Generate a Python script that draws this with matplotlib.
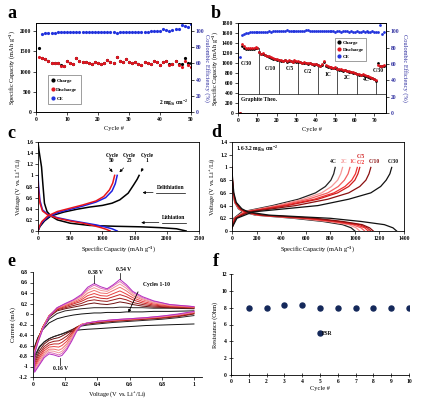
import matplotlib
matplotlib.use("Agg")
import matplotlib.pyplot as plt
from matplotlib.lines import Line2D

plt.rcParams['font.family'] = ['Liberation Serif', 'DejaVu Serif']
plt.rcParams['font.weight'] = 'bold'
plt.rcParams['mathtext.fontset'] = 'custom'
plt.rcParams['mathtext.rm'] = 'Liberation Serif:bold'
plt.rcParams['mathtext.it'] = 'Liberation Serif:bold:italic'
plt.rcParams['mathtext.bf'] = 'Liberation Serif:bold'
plt.rcParams['axes.linewidth'] = 0.6
plt.rcParams['xtick.major.width'] = 0.5
plt.rcParams['ytick.major.width'] = 0.5
plt.rcParams['xtick.major.size'] = 2
plt.rcParams['ytick.major.size'] = 2
plt.rcParams['xtick.major.pad'] = 1.5
plt.rcParams['ytick.major.pad'] = 1.5

TICK = 4
LAB = 4.6
TXT = 4

# ---------------- data: panel a ----------------
cycles_a = list(range(1, 51))
charge_a = [1574, 1340, 1310, 1270, 1220, 1205, 1205, 1150, 1130, 1262,
            1221, 1189, 1328, 1270, 1230, 1230, 1213, 1189, 1246, 1221,
            1197, 1205, 1287, 1230, 1221, 1369, 1270, 1246, 1311, 1238,
            1205, 1238, 1189, 1172, 1246, 1213, 1189, 1270, 1246, 1172,
            1240, 1262, 1180, 1190, 1270, 1195, 1195, 1340, 1200, 1200]
discharge_a = [1369, 1336, 1303, 1270, 1221, 1205, 1205, 1148, 1131, 1262,
               1221, 1189, 1328, 1270, 1230, 1230, 1213, 1189, 1246, 1221,
               1197, 1205, 1287, 1230, 1221, 1369, 1270, 1246, 1311, 1238,
               1205, 1238, 1189, 1172, 1246, 1213, 1189, 1270, 1246, 1172,
               1230, 1254, 1172, 1189, 1270, 1172, 1107, 1254, 1164, 1107]
ce_a = [96.7, 97.5, 98, 98, 98.2, 98.4, 98.4, 98.4, 98.5, 98.5,
        98.5, 98.6, 98.6, 98.6, 98.7, 98.7, 98.7, 98.8, 98.8, 98.8,
        98.8, 98.9, 98.9, 99, 98.2, 99, 99, 98.5, 99, 99,
        99, 99.2, 99.2, 99.3, 99.4, 99.6, 99.8, 100, 100, 102,
        101, 100.3, 101.5, 103, 102, 108, 106.5, 105, 108.6]

# ---------------- data: panel b ----------------
cycles_b = list(range(1, 76))
discharge_b = [0, 1375, 1340, 1310, 1300, 1300, 1305, 1310, 1315, 1310,
               1230, 1190, 1200, 1170, 1150, 1140, 1120, 1100, 1090, 1080,
               1070, 1060, 1050, 1070, 1040, 1060, 1050, 1030, 1060, 1040,
               1040, 1030, 1010, 1020, 1010, 1000, 1010, 990, 980, 990,
               970, 950, 980, 1040, 960, 940, 930, 920, 910, 920,
               890, 880, 880, 860, 870, 850, 840, 830, 820, 810,
               790, 780, 770, 780, 760, 750, 740, 720, 710, 690,
               660, 960, 950, 945, 955]
charge_b = [0, 1340, 1300, 1285, 1275, 1275, 1280, 1290, 1300, 1300,
            1215, 1180, 1185, 1160, 1140, 1130, 1110, 1090, 1080, 1070,
            1060, 1050, 1040, 1060, 1030, 1050, 1040, 1020, 1050, 1030,
            1030, 1020, 1000, 1010, 1000, 990, 1000, 980, 970, 980,
            960, 940, 970, 1030, 950, 930, 920, 910, 900, 910,
            880, 870, 870, 850, 860, 840, 830, 820, 810, 800,
            780, 770, 760, 770, 750, 740, 730, 710, 700, 680,
            650, 1010, 945, 940, 950]
ce_b = [69, 95.5, 96.5, 97.5, 98, 98.5, 98.5, 99, 99, 99,
        99, 99.5, 99.5, 99.5, 99.5, 100, 99.5, 100, 100, 100,
        100, 100.5, 100.5, 100.5, 101, 100.5, 100, 100, 100, 100.5,
        100, 100, 100, 100, 101, 101, 100.5, 100.5, 100, 100.5,
        100, 100.5, 100, 100, 100, 100.5, 100, 100, 100, 99.5,
        100, 100, 99.5, 100, 100, 100, 99.5, 100, 99.5, 99.5,
        100, 99.5, 99.5, 100, 99.5, 100, 99.5, 99.5, 100, 99.5,
        99.5, 99, 107, 97, 99]
rate_edges = [11, 21, 31, 41, 51, 61, 71]
rate_tops = [1310, 1080, 1040, 990, 920, 810, 650]
graphite_theo = 372
rate_names_b = ['C/30', 'C/10', 'C/5', 'C/2', '1C', '2C', '4C', 'C/30']
rate_x_b = [4.5, 16.5, 26.7, 36, 46, 56.2, 66, 72]
rate_y_b = [984, 883, 883, 835, 769, 715, 669, 850]

# ---------------- data: panel c ----------------
c1_del_x = [0, 30, 100, 200, 400, 600, 800, 1000, 1150, 1270, 1400, 1480, 1540, 1570]
c1_del_y = [0.0, 0.08, 0.18, 0.27, 0.34, 0.39, 0.43, 0.46, 0.5, 0.56, 0.68, 0.82, 0.93, 1.0]
c1_lit_x = [0, 15, 35, 55, 75, 100, 140, 200, 300, 500, 800, 1200, 1600, 1900, 2150, 2300]
c1_lit_y = [1.6, 1.45, 1.3, 1.15, 0.85, 0.5, 0.35, 0.27, 0.2, 0.14, 0.1, 0.085, 0.075, 0.06, 0.04, 0.0]
c25_del_x = [0, 20, 60, 150, 300, 500, 700, 900, 1050, 1150, 1200, 1230]
c25_del_y = [0.0, 0.07, 0.15, 0.25, 0.33, 0.39, 0.45, 0.52, 0.6, 0.72, 0.85, 1.0]
c25_lit_x = [0, 10, 30, 70, 150, 300, 500, 700, 900, 1050, 1150, 1230]
c25_lit_y = [1.0, 0.8, 0.55, 0.38, 0.3, 0.24, 0.19, 0.15, 0.11, 0.07, 0.04, 0.0]
c50_del_x = [0, 20, 60, 150, 300, 500, 700, 900, 1020, 1110, 1160, 1190]
c50_del_y = [0.0, 0.08, 0.17, 0.27, 0.35, 0.41, 0.47, 0.54, 0.62, 0.74, 0.86, 1.0]
c50_lit_x = [0, 10, 30, 70, 150, 300, 500, 700, 850, 980, 1060, 1120]
c50_lit_y = [0.88, 0.7, 0.5, 0.36, 0.29, 0.23, 0.18, 0.14, 0.1, 0.06, 0.03, 0.0]

# ---------------- data: panel d ----------------
d_rates = ['C/30', 'C/10', 'C/5', 'C/2', '1C', '2C', '4C']
d_colors = ['#111111', '#8a0f0f', '#d01c1c', '#f03030', '#f26060', '#f59a9a', '#222222']
d_chg_v = [0.05, 0.2, 0.3, 0.4, 0.5, 0.6, 0.7, 0.8, 0.9, 1.0]
d_chg_x = [[0, 40, 170, 700, 950, 1130, 1210, 1255, 1285, 1300],
           [0, 30, 140, 520, 780, 950, 1040, 1090, 1115, 1130],
           [0, 25, 120, 450, 700, 860, 950, 1000, 1025, 1040],
           [0, 25, 115, 420, 670, 830, 920, 975, 1005, 1020],
           [0, 20, 105, 390, 620, 780, 865, 915, 945, 960],
           [0, 20, 95, 360, 580, 730, 810, 860, 885, 900],
           [0, 15, 80, 330, 540, 680, 760, 805, 828, 840]]
d_dis_v = [1.0, 0.8, 0.6, 0.45, 0.35, 0.3, 0.25, 0.2, 0.15, 0.1, 0.05, 0.0]
d_dis_x = [[0, 5, 15, 35, 80, 130, 300, 800, 1050, 1240, 1310, 1340],
           [0, 4, 12, 30, 70, 115, 250, 680, 900, 1060, 1120, 1150],
           [0, 4, 12, 28, 65, 110, 230, 640, 870, 1040, 1100, 1130],
           [0, 3, 10, 26, 60, 105, 220, 600, 840, 1010, 1080, 1110],
           [0, 3, 10, 25, 58, 100, 210, 570, 810, 980, 1050, 1080],
           [0, 3, 9, 24, 55, 95, 200, 540, 780, 950, 1010, 1040],
           [0, 3, 9, 22, 52, 90, 190, 500, 740, 900, 970, 1000]]
d_lab_x = [1311, 1161, 1053, 1053, 985, 917, 822]
d_lab_y = [1.09, 1.09, 1.17, 1.08, 1.09, 1.09, 1.09]

# ---------------- data: panel e (CV, cycles 1-10) ----------------
e_va = [0.01, 0.03, 0.06, 0.1, 0.15, 0.2, 0.25, 0.3, 0.34, 0.38,
        0.42, 0.46, 0.5, 0.54, 0.58, 0.62, 0.68, 0.75, 0.85, 1.0]
e_ia = [[-0.62, -0.45, -0.30, -0.17, -0.09, -0.05, -0.02, 0.00, 0.01, 0.02, 0.02, 0.03, 0.03, 0.03, 0.04, 0.04, 0.04, 0.05, 0.05, 0.06],
        [-0.64, -0.47, -0.28, -0.10, 0.01, 0.06, 0.08, 0.10, 0.11, 0.12, 0.12, 0.12, 0.12, 0.13, 0.13, 0.12, 0.12, 0.11, 0.11, 0.10],
        [-0.66, -0.48, -0.26, -0.06, 0.06, 0.10, 0.13, 0.16, 0.19, 0.21, 0.19, 0.18, 0.20, 0.23, 0.21, 0.18, 0.15, 0.13, 0.12, 0.11],
        [-0.67, -0.49, -0.25, -0.04, 0.08, 0.12, 0.16, 0.20, 0.25, 0.27, 0.25, 0.24, 0.27, 0.30, 0.27, 0.22, 0.18, 0.15, 0.13, 0.12],
        [-0.68, -0.50, -0.25, -0.03, 0.09, 0.14, 0.19, 0.24, 0.30, 0.33, 0.30, 0.29, 0.33, 0.37, 0.33, 0.27, 0.21, 0.17, 0.14, 0.12],
        [-0.70, -0.51, -0.26, -0.03, 0.10, 0.16, 0.21, 0.27, 0.35, 0.39, 0.35, 0.34, 0.39, 0.44, 0.38, 0.31, 0.24, 0.19, 0.15, 0.13],
        [-0.71, -0.52, -0.27, -0.03, 0.11, 0.17, 0.23, 0.30, 0.40, 0.45, 0.40, 0.39, 0.45, 0.51, 0.44, 0.35, 0.27, 0.21, 0.16, 0.13],
        [-0.72, -0.53, -0.28, -0.04, 0.12, 0.18, 0.25, 0.33, 0.45, 0.50, 0.45, 0.43, 0.50, 0.57, 0.49, 0.38, 0.29, 0.22, 0.17, 0.14],
        [-0.74, -0.54, -0.29, -0.04, 0.12, 0.19, 0.26, 0.35, 0.48, 0.55, 0.49, 0.46, 0.54, 0.62, 0.53, 0.41, 0.31, 0.24, 0.18, 0.14],
        [-0.76, -0.55, -0.30, -0.05, 0.12, 0.20, 0.27, 0.37, 0.51, 0.58, 0.52, 0.48, 0.56, 0.66, 0.56, 0.43, 0.33, 0.25, 0.18, 0.14]]
e_vc = [1.0, 0.9, 0.8, 0.7, 0.6, 0.5, 0.4, 0.34, 0.3, 0.27,
        0.24, 0.21, 0.18, 0.16, 0.13, 0.1, 0.07, 0.04, 0.01]
e_ic = [[-0.19, -0.20, -0.21, -0.22, -0.24, -0.26, -0.28, -0.29, -0.30, -0.31, -0.33, -0.35, -0.38, -0.40, -0.43, -0.47, -0.53, -0.62, -0.80],
        [-0.03, -0.07, -0.10, -0.12, -0.14, -0.16, -0.19, -0.21, -0.23, -0.26, -0.30, -0.34, -0.38, -0.40, -0.43, -0.47, -0.53, -0.64, -0.85],
        [0.00, -0.05, -0.08, -0.10, -0.12, -0.14, -0.17, -0.19, -0.21, -0.25, -0.31, -0.37, -0.42, -0.45, -0.47, -0.50, -0.57, -0.70, -0.90],
        [0.01, -0.04, -0.07, -0.09, -0.11, -0.13, -0.16, -0.18, -0.20, -0.26, -0.34, -0.42, -0.48, -0.51, -0.52, -0.55, -0.62, -0.75, -0.94],
        [0.02, -0.03, -0.06, -0.09, -0.11, -0.13, -0.15, -0.17, -0.20, -0.27, -0.37, -0.47, -0.54, -0.57, -0.57, -0.59, -0.66, -0.80, -0.98],
        [0.03, -0.02, -0.06, -0.08, -0.10, -0.12, -0.15, -0.17, -0.20, -0.28, -0.40, -0.52, -0.60, -0.63, -0.62, -0.63, -0.70, -0.84, -1.01],
        [0.03, -0.02, -0.05, -0.08, -0.10, -0.12, -0.14, -0.17, -0.20, -0.29, -0.43, -0.57, -0.66, -0.69, -0.67, -0.67, -0.74, -0.88, -1.04],
        [0.04, -0.01, -0.05, -0.07, -0.09, -0.11, -0.14, -0.17, -0.20, -0.30, -0.46, -0.61, -0.71, -0.74, -0.71, -0.70, -0.77, -0.92, -1.07],
        [0.04, -0.01, -0.04, -0.07, -0.09, -0.11, -0.14, -0.17, -0.21, -0.32, -0.49, -0.65, -0.75, -0.78, -0.75, -0.73, -0.80, -0.95, -1.09],
        [0.05, 0.00, -0.04, -0.07, -0.09, -0.11, -0.14, -0.17, -0.22, -0.34, -0.52, -0.68, -0.79, -0.81, -0.78, -0.76, -0.83, -0.97, -1.11]]
e_colors = ['#111111', '#2e2424', '#6e1010', '#9c1a1a', '#c82828', '#e84040',
            '#f07070', '#f29a9a', '#e070b8', '#b42fc0']

# ---------------- data: panel f ----------------
cycles_f = [1, 2, 3, 4, 5, 6, 7, 8, 9, 10]
esr_f = [8, 8, 8.3, 8.3, 8, 8, 8, 8, 8, 8]

W, H = 422, 399


def box(l, t, r, b):
    return [l / W, 1 - b / H, (r - l) / W, (b - t) / H]


def style(ax, full=True):
    ax.tick_params(labelsize=TICK, direction='out')
    if not full:
        ax.spines['top'].set_visible(False)
        ax.spines['right'].set_visible(False)


fig = plt.figure(figsize=(W / 100, H / 100), dpi=100)

blue = '#2233dd'
red = '#e0141e'
cblue = '#3030a0'

# ---- a ----
ax = fig.add_axes(box(36, 23, 191, 112))
ax.plot(cycles_a, charge_a, 'o', color='black', ms=2.3, mew=0)
ax.plot(cycles_a, discharge_a, 'o', color=red, ms=2.3, mew=0)
ax.set_xlim(0, 50)
ax.set_ylim(0, 2200)
ax.set_xticks(range(0, 51, 10))
ax.set_yticks(range(0, 2001, 500))
ax.set_xlabel('Cycle #', fontsize=LAB, labelpad=3)
ax.set_ylabel('Specific Capacity (mAh g$^{-1}$)', fontsize=LAB, labelpad=2)
style(ax)
ax2 = ax.twinx()
ax2.plot(cycles_a[1:], ce_a, 'o', color=blue, ms=2.3, mew=0)
ax2.set_ylim(0, 110)
ax2.set_yticks(range(0, 101, 20))
ax2.tick_params(labelsize=TICK, direction='out', labelcolor=cblue)
ax2.set_ylabel('Coulombic Efficiency (%)', fontsize=LAB, color=cblue, rotation=270, labelpad=4)
h = [Line2D([], [], ls='', marker='o', color='black', ms=2),
     Line2D([], [], ls='', marker='o', color=red, ms=2),
     Line2D([], [], ls='', marker='o', color=blue, ms=2)]
leg = ax2.legend(h, ['Charge', 'Discharge', 'CE'], loc='lower left', bbox_to_anchor=(0.06, 0.065),
                 fontsize=3.6, frameon=True, fancybox=False, edgecolor='#555555',
                 handlelength=0.8, handletextpad=0.3, borderpad=0.6, labelspacing=0.9)
leg.get_frame().set_linewidth(0.5)
ax.text(49, 220, '2 mg$_{Si}$ cm$^{-2}$', fontsize=TXT, ha='right', va='center')

# ---- b ----
ax = fig.add_axes(box(238, 23, 386, 113))
for xe, yt in zip(rate_edges, rate_tops):
    ax.plot([xe, xe], [graphite_theo, yt], color='#333333', lw=0.6)
ax.axhline(graphite_theo, color='#333333', lw=0.6)
ax.plot(cycles_b, charge_b, 'o', color='black', ms=2.0, mew=0)
ax.plot(cycles_b, discharge_b, 'o', color=red, ms=2.0, mew=0)
for name, xx, yy in zip(rate_names_b, rate_x_b, rate_y_b):
    ax.text(xx, yy, name, fontsize=TXT, ha='center', va='center')
ax.text(1.5, 262, 'Graphite Theo.', fontsize=TXT, ha='left', va='center')
ax.set_xlim(0, 76)
ax.set_ylim(0, 1800)
ax.set_xticks(range(0, 71, 10))
ax.set_yticks(range(0, 1801, 200))
ax.set_xlabel('Cycle #', fontsize=LAB, labelpad=3)
ax.set_ylabel('Specific Capacity (mAh g$^{-1}$)', fontsize=LAB, labelpad=1)
style(ax)
ax2 = ax.twinx()
ax2.plot(cycles_b, ce_b, 'o', color=blue, ms=2.0, mew=0)
ax2.set_ylim(0, 110)
ax2.set_yticks(range(0, 101, 20))
ax2.tick_params(labelsize=TICK, direction='out', labelcolor=cblue)
ax2.set_ylabel('Coulombic Efficiency (%)', fontsize=LAB, color=cblue, rotation=270, labelpad=6)
leg = ax2.legend(h, ['Charge', 'Discharge', 'CE'], loc='upper left', bbox_to_anchor=(0.64, 0.86),
                 fontsize=3.6, frameon=True, fancybox=False, edgecolor='#555555',
                 handlelength=0.8, handletextpad=0.3, borderpad=0.4, labelspacing=0.5)
leg.get_frame().set_linewidth(0.5)

# ---- c ----
ax = fig.add_axes(box(38, 142, 199, 231))
ax.plot(c1_lit_x, c1_lit_y, color='black', lw=1.1)
ax.plot(c1_del_x, c1_del_y, color='black', lw=1.1)
ax.plot(c25_lit_x, c25_lit_y, color='#1f1fe0', lw=1.1)
ax.plot(c25_del_x, c25_del_y, color='#1f1fe0', lw=1.1)
ax.plot(c50_lit_x, c50_lit_y, color='#e8161c', lw=1.1)
ax.plot(c50_del_x, c50_del_y, color='#e8161c', lw=1.1)
ax.set_xlim(0, 2500)
ax.set_ylim(0, 1.6)
ax.set_xticks(range(0, 2501, 500))
ax.set_yticks([0, 0.2, 0.4, 0.6, 0.8, 1, 1.2, 1.4, 1.6])
ax.set_yticklabels(['0', '0.2', '0.4', '0.6', '0.8', '1', '1.2', '1.4', '1.6'])
ax.set_xlabel('Specific Capacity (mAh g$^{-1}$)', fontsize=LAB, labelpad=2)
ax.set_ylabel('Voltage (V vs. Li$^{+}$/Li)', fontsize=LAB, labelpad=2)
style(ax)
arr = dict(arrowstyle='-|>', color='black', lw=0.5, mutation_scale=4)
ax.text(1150, 1.31, 'Cycle\n50', fontsize=TXT, ha='center', va='center', linespacing=1.1)
ax.annotate('', xy=(1185, 1.02), xytext=(1080, 1.17), arrowprops=arr)
ax.text(1420, 1.31, 'Cycle\n25', fontsize=TXT, ha='center', va='center', linespacing=1.1)
ax.annotate('', xy=(1235, 1.02), xytext=(1360, 1.17), arrowprops=arr)
ax.text(1690, 1.31, 'Cycle\n1', fontsize=TXT, ha='center', va='center', linespacing=1.1)
ax.annotate('', xy=(1575, 1.02), xytext=(1650, 1.17), arrowprops=arr)
ax.text(2060, 0.73, 'Delithiation', fontsize=TXT, ha='center', va='bottom')
ax.plot([1830, 2290], [0.69, 0.69], color='black', lw=0.5)
ax.annotate('', xy=(1580, 0.69), xytext=(1830, 0.69), arrowprops=arr)
ax.text(2110, 0.19, 'Lithiation', fontsize=TXT, ha='center', va='bottom')
ax.plot([1920, 2300], [0.15, 0.15], color='black', lw=0.5)
ax.annotate('', xy=(1560, 0.15), xytext=(1920, 0.15), arrowprops=arr)

# ---- d ----
ax = fig.add_axes(box(232, 142, 404, 231))
for i in range(len(d_rates) - 1, -1, -1):
    ax.plot(d_dis_x[i], d_dis_v, color=d_colors[i], lw=0.9)
    ax.plot(d_chg_x[i], d_chg_v, color=d_colors[i], lw=0.9)
for i, name in enumerate(d_rates):
    ax.text(d_lab_x[i], d_lab_y[i], name, fontsize=TXT, ha='center', va='center', color=d_colors[i])
ax.text(35, 1.29, '1.6-3.2 mg$_{Si}$ cm$^{-2}$', fontsize=TXT, ha='left', va='center')
ax.set_xlim(0, 1400)
ax.set_ylim(0, 1.4)
ax.set_xticks(range(0, 1401, 200))
ax.set_yticks([0, 0.2, 0.4, 0.6, 0.8, 1, 1.2, 1.4])
ax.set_yticklabels(['0', '0.2', '0.4', '0.6', '0.8', '1', '1.2', '1.4'])
ax.set_xlabel('Specific Capacity (mAh g$^{-1}$)', fontsize=LAB, labelpad=2)
ax.set_ylabel('Voltage (V vs. Li$^{+}$/Li)', fontsize=LAB, labelpad=2)
style(ax)

# ---- e ----
ax = fig.add_axes(box(33, 272, 202, 377))
for k in range(10):
    ax.plot(e_vc + e_va, e_ic[k] + e_ia[k], color=e_colors[k], lw=0.7)
ax.set_xlim(0, 1.05)
ax.set_ylim(-1.2, 0.8)
ax.set_xticks([0, 0.2, 0.4, 0.6, 0.8, 1])
ax.set_xticklabels(['0', '0.2', '0.4', '0.6', '0.8', '1'])
ax.set_yticks([-1.2, -1, -0.8, -0.6, -0.4, -0.2, 0, 0.2, 0.4, 0.6, 0.8])
ax.set_yticklabels(['-1.2', '-1', '-0.8', '-0.6', '-0.4', '-0.2', '0', '0.2', '0.4', '0.6', '0.8'])
ax.set_xlabel('Voltage (V vs. Li$^{+}$/Li)', fontsize=LAB, labelpad=2)
ax.set_ylabel('Current (mA)', fontsize=LAB, labelpad=2)
style(ax, full=False)
ax.text(0.39, 0.8, '0.38 V', fontsize=TXT, ha='center', va='center', clip_on=False)
ax.plot([0.38, 0.38], [0.75, 0.6], color='black', lw=0.5)
ax.text(0.56, 0.84, '0.54 V', fontsize=TXT, ha='center', va='center', clip_on=False)
ax.plot([0.54, 0.54], [0.79, 0.67], color='black', lw=0.5)
ax.text(0.17, -1.03, '0.16 V', fontsize=TXT, ha='center', va='center')
ax.plot([0.17, 0.17], [-0.97, -0.83], color='black', lw=0.5)
ax.text(0.77, 0.56, 'Cycles 1-10', fontsize=TXT, ha='center', va='center')
ax.annotate('', xy=(0.585, -0.02), xytext=(0.66, 0.47),
            arrowprops=dict(arrowstyle='-|>', color='black', lw=0.6, mutation_scale=4))

# ---- f ----
ax = fig.add_axes(box(231, 274, 409, 375))
ax.plot(cycles_f, esr_f, 'o', color='#14285a', ms=3.6, ls='', label='ESR')
ax.set_xlim(0, 10)
ax.set_ylim(0, 12)
ax.set_xticks(range(0, 11))
ax.set_yticks(range(0, 13, 2))
ax.set_xlabel('Cycle #', fontsize=LAB, labelpad=1)
ax.set_ylabel('Resistance (Ohm)', fontsize=LAB, labelpad=2)
style(ax, full=False)
ax.tick_params(direction='inout', length=3)
ax.legend(loc='center left', bbox_to_anchor=(4.88, 4.9), bbox_transform=ax.transData,
          frameon=False, fontsize=TXT, handlelength=0.6, handletextpad=0.2,
          borderpad=0, borderaxespad=0)

# panel letters
for letter, x, y in [('a', 7, 18), ('b', 211, 18), ('c', 7, 138), ('d', 211, 137),
                     ('e', 7, 266), ('f', 213, 266)]:
    fig.text(x / W, 1 - y / H, letter, fontsize=13, fontweight='bold', va='baseline', ha='left')

fig.savefig('out.png', dpi=100)
